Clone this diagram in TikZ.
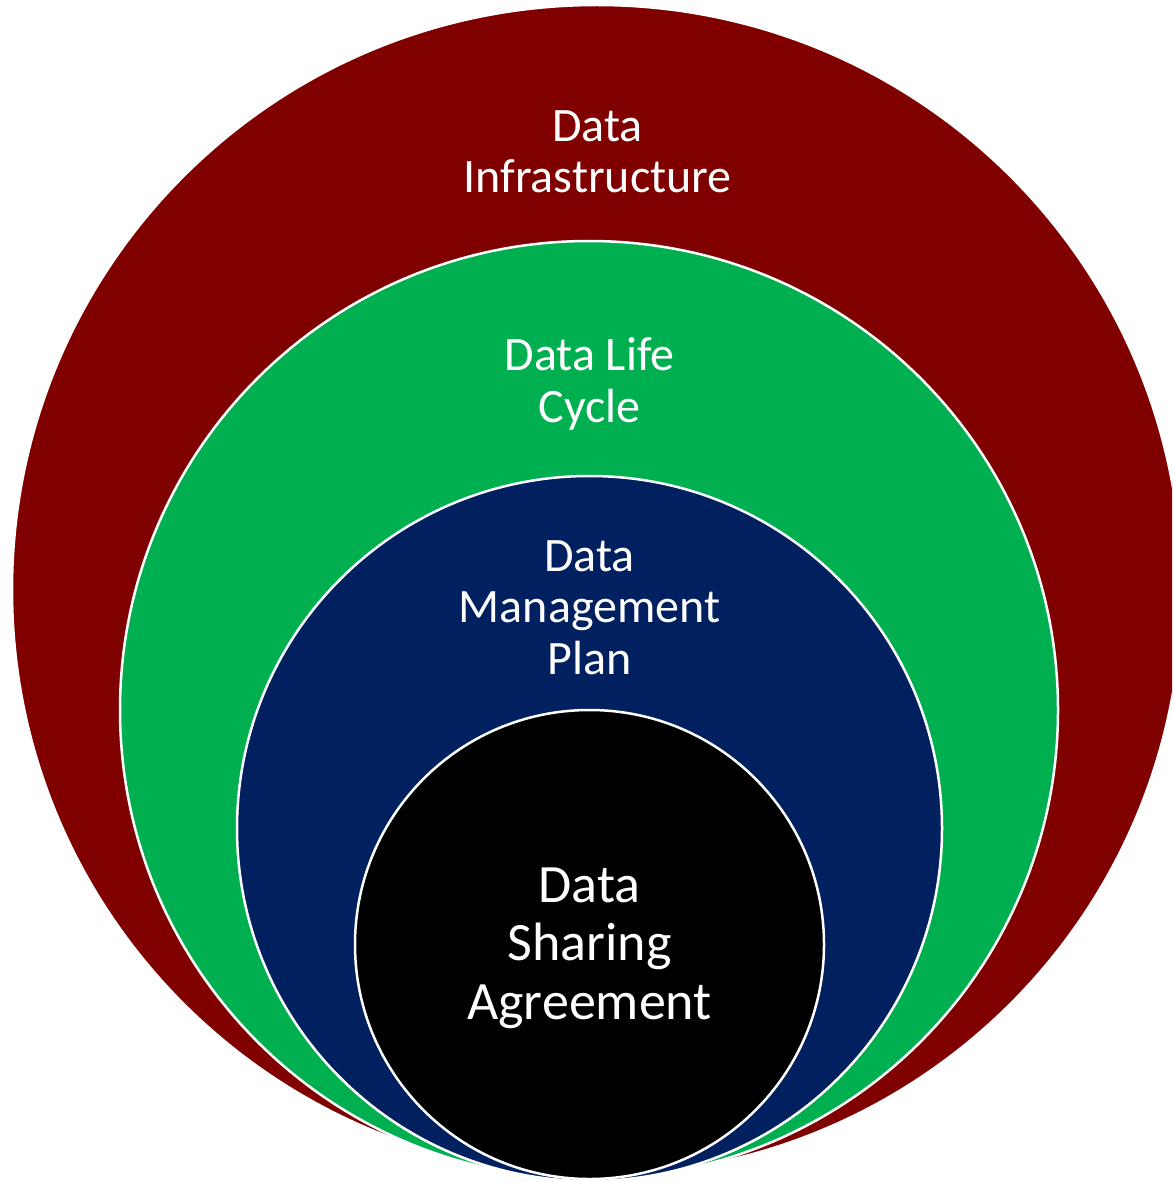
\documentclass[tikz,border=0pt]{standalone}
\usepackage{fontspec}
\setmainfont{Carlito}
\definecolor{ringred}{HTML}{800000}
\definecolor{ringgreen}{HTML}{00B050}
\definecolor{ringblue}{HTML}{002060}
\tikzset{
  disc/.style={circle, draw=white, line width=2.5pt, inner sep=0pt, outer sep=0pt},
  lbl/.style={text=white, align=center, anchor=base, inner sep=0pt, font=\fontsize{48}{51.5}\selectfont},
  lblbig/.style={lbl, font=\fontsize{54}{58.5}\selectfont}
}
\begin{document}
\begin{tikzpicture}[x=1pt,y=-1pt]
\useasboundingbox (0,0) rectangle (1172,1182);
\clip (0,0) rectangle (1172,1182);
\node[disc, fill=ringred, minimum size=1170pt] (infra) at (597,590) {};
\node[disc, fill=ringgreen, minimum size=938pt] (life) at (589,710) {};
\node[disc, fill=ringblue, minimum size=705pt] (dmp) at (589.5,828.5) {};
\node[disc, fill=black, minimum size=469pt] (dsa) at (589.5,944.5) {};
\node[lbl] (tinfra) at (597.5,193) {Data\\Infrastructure};
\node[lbl] (tlife) at (589.5,422) {Data Life\\Cycle};
\node[lbl] (tdmp) at (589.5,674) {Data\\Management\\Plan};
\node[lblbig] (tdsa) at (589.5,1019) {Data\\Sharing\\Agreement};
\end{tikzpicture}
\end{document}
